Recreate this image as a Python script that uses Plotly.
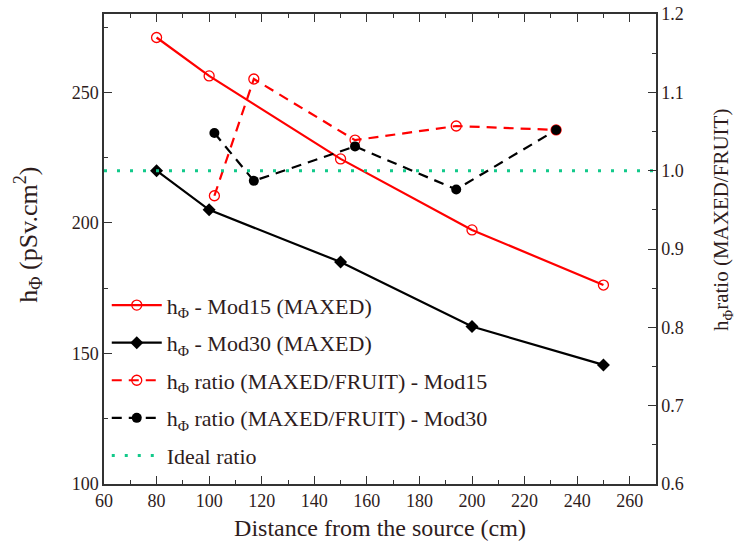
import plotly.graph_objects as go

# MAXED dose-equivalent coefficient vs distance
dist_maxed = [80, 100, 150, 200, 250]
h_mod15 = [271, 256.3, 224.5, 197.3, 176.2]
h_mod30 = [220, 205, 185, 160.3, 145.6]

# ratio MAXED/FRUIT
dist_ratio = [102, 117, 155.5, 194, 232]
ratio_mod15 = [0.968, 1.117, 1.039, 1.057, 1.052]
ratio_mod30 = [1.048, 0.987, 1.031, 0.976, 1.052]

ideal_x = [60, 270]
ideal_y = [1.0, 1.0]

# axis ticks
x_ticks = [60, 80, 100, 120, 140, 160, 180, 200, 220, 240, 260]
y_ticks = [100, 150, 200, 250]
y2_ticks = [0.6, 0.7, 0.8, 0.9, 1.0, 1.1, 1.2]
y2_labels = ["0.6", "0.7", "0.8", "0.9", "1.0", "1.1", "1.2"]

FONT = "Times New Roman, Liberation Serif, DejaVu Serif, serif"
TXT = "#2e1c1c"
GREEN = "#12c98a"

fig = go.Figure()
fig.add_trace(go.Scatter(
    x=dist_maxed, y=h_mod15, mode="lines+markers", legendgroup="a",
    name="h<sub>Φ</sub> - Mod15 (MAXED)",
    line=dict(color="red", width=2.2),
    marker=dict(symbol="circle-open", size=10, color="red", line=dict(width=1.3)),
))
fig.add_trace(go.Scatter(
    x=dist_maxed, y=h_mod30, mode="lines+markers", legendgroup="b",
    name="h<sub>Φ</sub> - Mod30 (MAXED)",
    line=dict(color="black", width=2.2),
    marker=dict(symbol="diamond", size=10, color="black"),
))
fig.add_trace(go.Scatter(
    x=dist_ratio, y=ratio_mod15, mode="lines+markers", yaxis="y2", legendgroup="c",
    name="h<sub>Φ</sub> ratio (MAXED/FRUIT) - Mod15",
    line=dict(color="red", width=2.2, dash="10px,7px"),
    marker=dict(symbol="circle-open", size=10, color="red", line=dict(width=1.3)),
))
fig.add_trace(go.Scatter(
    x=dist_ratio, y=ratio_mod30, mode="lines+markers", yaxis="y2", legendgroup="d",
    name="h<sub>Φ</sub> ratio (MAXED/FRUIT) - Mod30",
    line=dict(color="black", width=2.2, dash="10px,7px"),
    marker=dict(symbol="circle", size=10, color="black"),
))
fig.add_trace(go.Scatter(
    x=ideal_x, y=ideal_y, mode="lines", yaxis="y2", legendgroup="e",
    name="Ideal ratio",
    line=dict(color=GREEN, width=3, dash="3px,10px"),
))

axis_common = dict(
    showgrid=False, zeroline=False, showline=True, linecolor="#333333", linewidth=1.5,
    ticks="inside", ticklen=8, tickwidth=1.3, tickcolor="#333333", automargin=False,
    tickfont=dict(family=FONT, size=18, color=TXT), ticklabeloverflow="allow",
)

fig.update_layout(
    width=743, height=550,
    margin=dict(l=104, r=87, t=14, b=66),
    plot_bgcolor="white", paper_bgcolor="white",
    font=dict(family=FONT, color=TXT, size=18),
    showlegend=True,
    legend=dict(
        x=0.005, y=0.425, xanchor="left", yanchor="top",
        bgcolor="rgba(0,0,0,0)", borderwidth=0,
        font=dict(family=FONT, size=22, color=TXT),
        itemwidth=50, tracegroupgap=6,
    ),
    xaxis=dict(
        range=[60, 270], tickvals=x_ticks, mirror="ticks",
        minor=dict(dtick=10, tick0=60, ticks="inside", ticklen=4, tickcolor="#333333"),
        title=dict(text="Distance from the source (cm)", font=dict(family=FONT, size=24, color=TXT), standoff=9),
        **axis_common,
    ),
    yaxis=dict(
        range=[100, 280], tickvals=y_ticks,
        minor=dict(dtick=25, tick0=100, ticks="inside", ticklen=4, tickcolor="#333333"),
        **axis_common,
    ),
    yaxis2=dict(
        range=[0.6, 1.2], tickvals=y2_ticks, ticktext=y2_labels,
        overlaying="y", side="right",
        minor=dict(dtick=0.05, tick0=0.6, ticks="inside", ticklen=4, tickcolor="#333333"),
        **axis_common,
    ),
    annotations=[
        dict(text="h<sub>Φ</sub> (pSv.cm<sup>2</sup>)", textangle=-90, showarrow=False,
             xref="paper", yref="paper", x=-0.138, y=0.53, xanchor="center", yanchor="middle",
             font=dict(family=FONT, size=26, color=TXT)),
        dict(text="h<sub>Φ</sub>ratio (MAXED/FRUIT)", textangle=-90, showarrow=False,
             xref="paper", yref="paper", x=1.12, y=0.562, xanchor="center", yanchor="middle",
             font=dict(family=FONT, size=21, color=TXT)),
    ],
)

fig.write_html(
    "out.html",
    config={"displayModeBar": False},
    post_script="document.body.style.margin='0';document.body.style.padding='0';",
)
